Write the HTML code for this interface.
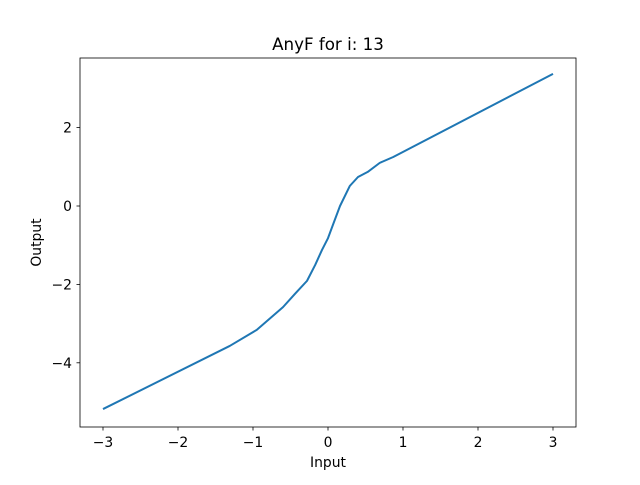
<!DOCTYPE html>
<html><head><meta charset="utf-8"><style>
body{margin:0;background:#fff;font-family:"Liberation Sans","DejaVu Sans",sans-serif;}
text{font-family:"DejaVu Sans","Liberation Sans",sans-serif;}
</style></head><body>
<svg id="chart" width="640" height="480" xmlns="http://www.w3.org/2000/svg">
<rect width="640" height="480" fill="#fff"/>
<text x="328" y="50" font-size="16.7" text-anchor="middle">AnyF for i: 13</text>
<g id="plot"></g>
<rect x="80" y="58" width="496" height="369" fill="none" stroke="#000" stroke-width="0.8"/>
<text x="328" y="467" font-size="13.9" text-anchor="middle">Input</text>
<text transform="translate(41,242.5) rotate(-90)" font-size="13.9" text-anchor="middle">Output</text>
</svg>
<script>
const xs=[-3,-1.31,-0.95,-0.6,-0.44,-0.28,-0.17,-0.08,0,0.07,0.16,0.29,0.4,0.53,0.69,0.87,3];
const ys=[-5.18,-3.57,-3.16,-2.58,-2.24,-1.91,-1.5,-1.12,-0.82,-0.46,0,0.51,0.74,0.87,1.1,1.25,3.37];
const xTicks=[-3,-2,-1,0,1,2,3];
const yTicks=[-4,-2,0,2];
const sx=v=>328+v*75;
const sy=v=>206-v*39.2;
const NS="http://www.w3.org/2000/svg";
const g=document.getElementById('plot');
function mk(t,a){const e=document.createElementNS(NS,t);for(const k in a)e.setAttribute(k,a[k]);g.appendChild(e);return e;}
xTicks.forEach(v=>{
 const l=mk('line',{x1:sx(v),x2:sx(v),y1:427,y2:430.5,stroke:'#000','stroke-width':0.8});
 
 
 const t=mk('text',{x:sx(v),y:447,'font-size':13.9,'text-anchor':'middle'});
 t.textContent=(v<0?'\u2212':'')+Math.abs(v);
 
 
});
yTicks.forEach(v=>{
 const l=mk('line',{x1:76.5,x2:80,y1:sy(v),y2:sy(v),stroke:'#000','stroke-width':0.8});
 
 
 const t=mk('text',{x:72,y:sy(v)+5,'font-size':13.9,'text-anchor':'end'});
 t.textContent=(v<0?'\u2212':'')+Math.abs(v);
 
 
});
const p=mk('polyline',{points:xs.map((x,i)=>sx(x)+','+sy(ys[i])).join(' '),fill:'none',stroke:'#1f77b4','stroke-width':2,'stroke-linejoin':'round'});


</script>
</body></html>
